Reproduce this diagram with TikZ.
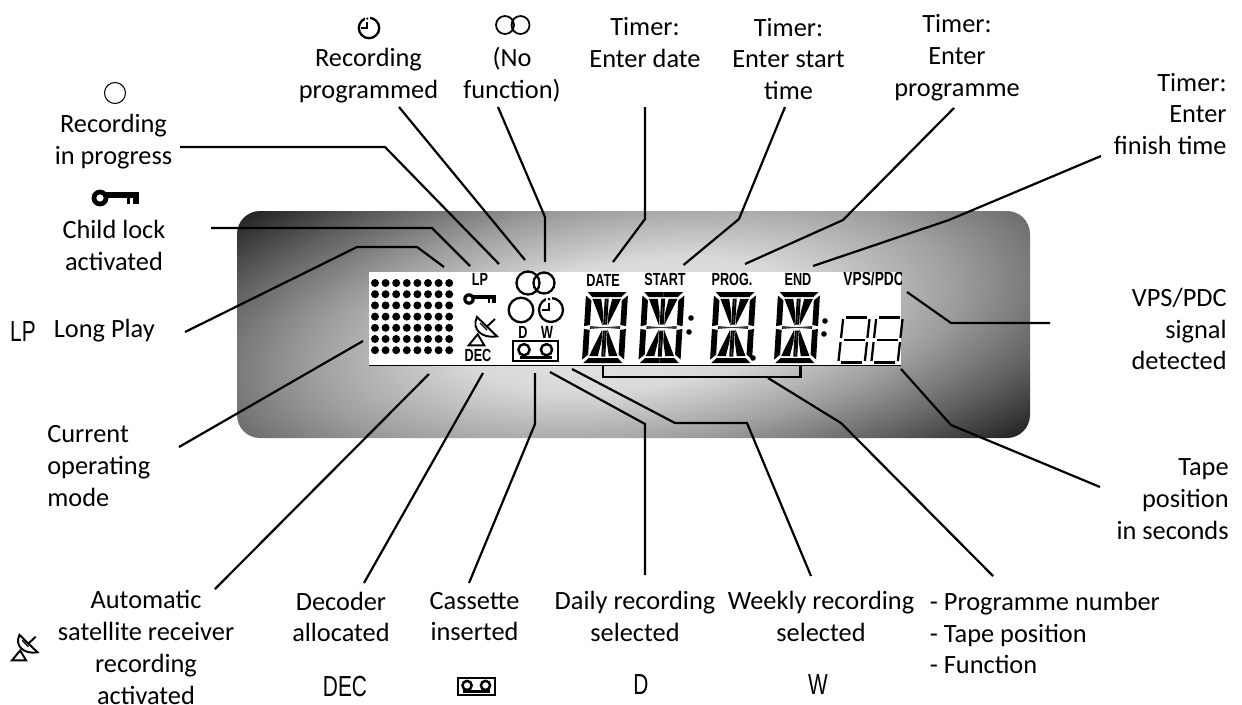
\documentclass[tikz,border=0pt]{standalone}
\usepackage{fontspec}
\setmainfont{Carlito}
\newfontfamily\lcdfont[FakeStretch=0.72]{Liberation Sans}
\usetikzlibrary{positioning}

\pgfdeclareradialshading{lcdglow}{\pgfpoint{0bp}{0bp}}{%
  color(0bp)=(black!7); color(8bp)=(black!15); color(15bp)=(black!38);
  color(21bp)=(black!62); color(28bp)=(black!92); color(100bp)=(black!92)}

\tikzset{
  keyicon/.pic={
    \fill[even odd rule] (0,0) circle[radius=5.8] (0,0) circle[radius=2.6];
    \fill (4,-4.2) rectangle (27,0);
    \fill (18.5,-1) rectangle (21,4);
    \fill (23,-1) rectangle (27,4);
  },
  dishicon/.pic={
    \draw[line width=1.1pt] (-13.3,14.3) -- (2.3,14.3) -- (-4.3,3.3) -- cycle;
    \draw[line width=1.1pt,fill=white] (-5,-14) .. controls (-11,-2) and (0,8) .. (15,5.3) -- cycle;
    \draw[line width=1.1pt] (5,-4.5) -- (13,-12);
    \draw[line width=0.8pt] (-2,-8) -- (5,-1);
  },
  clockicon/.pic={
    \draw[line width=1.3pt] (0,0) circle[radius=12];
    \fill[white] (-5,-14) rectangle (1,-9);
    \fill (-2,-11) circle[radius=1.5];
    \draw[line width=1.2pt] (-2,-7.5) -- (-2,0) -- (-9,0);
  },
  tapeicon/.pic={
    \draw[line width=1pt] (-22.5,-10) rectangle (22.5,10);
    \draw[line width=1.4pt] (-11.5,-1.3) circle[radius=5.6] (11,-1.3) circle[radius=5.6];
    \fill (-16,4.5) rectangle (16,8);
  },
  segdigit/.pic={
    \begin{scope}[xslant=0.06]
      \foreach \sx/\sy in {1/1,-1/1,1/-1,-1/-1} {
        \begin{scope}[xscale=\sx,yscale=\sy]
          \fill (0,35.5) -- (19.5,35.5) -- (14.5,30.5) -- (0,30.5) -- cycle;
          \fill (15.2,2.5) -- (21,1.4) -- (21,32) -- (15.2,27) -- cycle;
          \fill (2.6,2) -- (14.2,28.6) -- (5.5,28.6) -- (2.6,14) -- cycle;
          \fill (0,3) rectangle (2,29);
          \fill (0,0) -- (15,0) -- (15,1.3) -- (0,0.3) -- cycle;
        \end{scope}
      }
    \end{scope}
  },
  sevenseg/.pic={
    \begin{scope}[xslant=0.11,line width=1.3pt]
      \draw (-10.5,-22.5) -- (10.5,-22.5);
      \draw (-10.5,22.5) -- (10.5,22.5);
      \draw (-10.5,0) -- (10.5,0);
      \foreach \xa in {-13.2,13.2} {
        \draw (\xa,-21) -- (\xa,-2);
        \draw (\xa,2) -- (\xa,21);
      }
    \end{scope}
  }
}

\begin{document}
\begin{tikzpicture}[
  x=0.02cm,y=-0.02cm,
  lead/.style={line width=1.25pt,draw=black},
  lbl/.style={font=\fontsize{15}{18.14}\selectfont,align=center,inner sep=0pt,text=black},
  lblr/.style={lbl,align=right,anchor=east},
  lbll/.style={lbl,align=left,anchor=west},
  lcd/.style={font=\lcdfont\bfseries\fontsize{10}{11}\selectfont,inner sep=0pt},
  sym/.style={font=\lcdfont\fontsize{16.5}{18}\selectfont,inner sep=0pt}
]
\useasboundingbox (0,0) rectangle (1242,704);

% ---- panel ----
\begin{scope}
  \clip[rounded corners=0.46cm] (237,211) rectangle (1030,438);
  \shade[shading=lcdglow,transform canvas={shift={(633.5,324.5)},rotate=8}] (-540,-200) rectangle (540,200);
\end{scope}
\fill[white] (369,272) rectangle (901,365);
\draw[line width=1pt] (369,365.5) -- (901,365.5);

% ---- dot matrix ----
\foreach \c in {0,...,7} {
  \foreach \r in {0,...,6} {
    \fill ({375+\c*10.6},{283+\r*11.2}) circle[radius=4];
  }
}

% ---- display marks ----
\node[lcd] (lcdlp) at (480,279) {LP};
\pic at (469,299) {keyicon};
\pic at (482,331) {dishicon};
\node[lcd] (lcddec) at (478,355) {DEC};
\draw[line width=1.3pt] (528,283) circle[radius=11.5] (544,283) circle[radius=10.5];
\draw[line width=1.3pt] (521,310) circle[radius=12.3];
\pic at (551,310) {clockicon};
\node[lcd] (lcdd) at (523,332) {D};
\node[lcd] (lcdw) at (547,332) {W};
\pic at (535.5,351) {tapeicon};

\node[lcd] (lcddate) at (603,280) {DATE};
\node[lcd] (lcdstart) at (665,279) {START};
\node[lcd] (lcdprog) at (732,279) {PROG.};
\node[lcd] (lcdend) at (798,279) {END};
\begin{scope}
  \clip (369,272) rectangle (901,365);
  \node[lcd,anchor=west,font=\lcdfont\bfseries\fontsize{10.9}{11}\selectfont] (lcdvps) at (843,279) {VPS/PDC};
\end{scope}

\foreach \x in {605,661.5,733,797} {
  \pic at (\x,327.5) {segdigit};
}
\fill (691,318) circle[radius=2.8] (689,332) circle[radius=2.8];
\fill (753,358) circle[radius=2.8];
\fill (825,321) circle[radius=2.8] (824,334) circle[radius=2.8];
\pic at (854,340) {sevenseg};
\pic at (887,340) {sevenseg};

% ---- labels, top ----
\draw[line width=0.6pt] (115,93) circle[radius=10.5];
\node[lbl] (lblrec) at (113.5,141.5) {Recording\\in progress};
\pic[scale=1.45] at (100,198) {keyicon};
\node[lbl] (lblchild) at (114,245.5) {Child lock\\activated};
\node[sym,anchor=center] (symlp) at (23,332) {LP};
\node[lbll] (lbllong) at (53.5,331) {Long Play};
\node[lbll] (lblmode) at (47,466) {Current\\operating\\mode};
\pic[scale=0.85] at (369,28) {clockicon};
\node[lbl] (lblprogd) at (368.5,75.5) {Recording\\programmed};
\draw[line width=1pt] (505,25) circle[radius=9] (520.5,25) circle[radius=9];
\node[lbl] (lblnof) at (512,75) {(No\\function)};
\node[lbl] (lbldate) at (645,42.5) {Timer:\\Enter date};
\node[lbl] (lblstart) at (788.5,59) {Timer:\\Enter start\\time};
\node[lbl] (lblprog) at (957,57.5) {Timer:\\Enter\\programme};
\node[lblr] (lblend) at (1227,114) {Timer:\\Enter\\finish time};
\node[lblr] (lblvps) at (1227,329) {VPS/PDC\\signal\\detected};
\node[lblr] (lbltape) at (1229,499) {Tape\\position\\in seconds};

% ---- labels, bottom ----
\pic[scale=0.9] at (24,647.5) {dishicon};
\node[lbl] (lblsat) at (146,647.5) {Automatic\\satellite receiver\\recording\\activated};
\node[lbl] (lbldec) at (341,617) {Decoder\\allocated};
\node[sym] (symdec) at (345,687) {DEC};
\node[lbl] (lblcas) at (474.5,616.5) {Cassette\\inserted};
\pic[scale=0.82] at (476.5,686.5) {tapeicon};
\node[lbl] (lblday) at (635,616.5) {Daily recording\\selected};
\node[sym] (symd) at (641,685) {D};
\node[lbl] (lblweek) at (821,616.5) {Weekly recording\\selected};
\node[sym] (symw) at (818,685) {W};
\node[lbll] (lbllist) at (929.5,633) {- Programme number\\- Tape position\\- Function};

% ---- connectors, top ----
\coordinate (reca) at (180,147);
\coordinate (recb) at (385,147);
\coordinate (recc) at (499,264);
\draw[lead] (reca) -- (recb) -- (recc);

\coordinate (proga) at (399,107);
\coordinate (progb) at (525,260);
\draw[lead] (proga) -- (progb);

\coordinate (nofa) at (498,107);
\coordinate (nofb) at (545,217);
\coordinate (nofc) at (545,262);
\draw[lead] (nofa) -- (nofb) -- (nofc);

\coordinate (childa) at (211,228);
\coordinate (childb) at (432,228);
\coordinate (childc) at (470,266);
\draw[lead] (childa) -- (childb) -- (childc);

\coordinate (longa) at (185,332);
\coordinate (longb) at (357,247);
\coordinate (longc) at (417,247);
\coordinate (longd) at (444,267);
\draw[lead] (longa) -- (longb) -- (longc) -- (longd);

\coordinate (datea) at (645,107);
\coordinate (dateb) at (645,219);
\coordinate (datec) at (613,262);
\draw[lead] (datea) -- (dateb) -- (datec);

\coordinate (starta) at (785,107);
\coordinate (startb) at (739,219);
\coordinate (startc) at (683.5,265);
\draw[lead] (starta) -- (startb) -- (startc);

\coordinate (pga) at (954,108);
\coordinate (pgb) at (843,220);
\coordinate (pgc) at (745,264);
\draw[lead] (pga) -- (pgb) -- (pgc);

\coordinate (enda) at (1101,156);
\coordinate (endb) at (949,220);
\coordinate (endc) at (813,266);
\draw[lead] (enda) -- (endb) -- (endc);

\coordinate (vpsa) at (1050,323);
\coordinate (vpsb) at (951,323);
\coordinate (vpsc) at (907,292);
\draw[lead] (vpsa) -- (vpsb) -- (vpsc);

% ---- connectors, bottom ----
\coordinate (modea) at (179,447);
\coordinate (modeb) at (363,341);
\draw[lead] (modea) -- (modeb);

\coordinate (sata) at (215,589);
\coordinate (satb) at (429,374);
\draw[lead] (sata) -- (satb);

\coordinate (deca) at (364,583);
\coordinate (decb) at (483,373);
\draw[lead] (deca) -- (decb);

\coordinate (casa) at (469,583);
\coordinate (casb) at (535,424);
\coordinate (casc) at (535,373);
\draw[lead] (casa) -- (casb) -- (casc);

\coordinate (daya) at (645,575);
\coordinate (dayb) at (645,424);
\coordinate (dayc) at (550,372);
\draw[lead] (daya) -- (dayb) -- (dayc);

\coordinate (weeka) at (811,576);
\coordinate (weekb) at (747,423);
\coordinate (weekc) at (675,423);
\coordinate (weekd) at (572,369);
\draw[lead] (weeka) -- (weekb) -- (weekc) -- (weekd);

\coordinate (lista) at (993,576);
\coordinate (listb) at (841,423);
\coordinate (listc) at (768,378);
\draw[lead] (lista) -- (listb) -- (listc);
\coordinate (brla) at (603,366);
\coordinate (brlb) at (603,377);
\coordinate (brra) at (800.5,377);
\coordinate (brrb) at (800.5,366);
\draw[lead] (brla) -- (brlb) -- (brra) -- (brrb);

\coordinate (tapea) at (1100,487);
\coordinate (tapeb) at (951,425);
\coordinate (tapec) at (901,369);
\draw[lead] (tapea) -- (tapeb) -- (tapec);

\end{tikzpicture}
\end{document}
